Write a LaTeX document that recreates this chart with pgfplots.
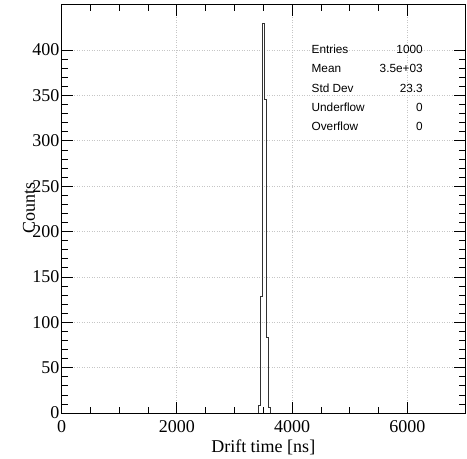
\documentclass[border=0pt]{standalone}
\usepackage{fontspec}
\setmainfont{Liberation Serif}
\newfontfamily\statfont{Liberation Sans}
\usepackage{pgfplots}
\pgfplotsset{compat=1.18}
\begin{document}
\begin{tikzpicture}
\useasboundingbox (0,0) rectangle (467bp,459bp);
\begin{axis}[
  at={(61.5bp,46bp)}, anchor=south west,
  scale only axis, width=403.5bp, height=408.4bp,
  xmin=0, xmax=7000, ymin=0, ymax=450,
  xtick={0,2000,4000,6000}, ytick={0,50,...,400},
  minor x tick num=3, minor y tick num=4,
  major tick length=11bp, minor tick length=6bp,
  tick align=inside, tick pos=both,
  tick style={black, line width=0.6bp},
  axis line style={line width=1bp},
  grid=major, major grid style={gray!45, line width=0.6bp, dash pattern=on 1bp off 1.5bp},
  tick label style={font=\fontsize{18bp}{20bp}\selectfont},
  /pgf/number format/assume math mode=true,
  /pgf/number format/1000 sep={},
  scaled x ticks=false,
  xlabel={Drift time [ns]}, ylabel={Counts},
  label style={font=\fontsize{18bp}{20bp}\selectfont},
  xlabel style={at={(axis description cs:0.5,-0.0955)}, anchor=base},
  ylabel style={at={(axis description cs:-0.0805,0.502)}, anchor=center},
  xticklabel style={yshift=-4bp},
  yticklabel style={xshift=1.5bp},
]
\addplot[const plot, black!80, line width=0.8bp] coordinates {
  (0,0) (3415,8) (3450,128) (3485,429) (3520,346) (3555,83) (3590,6) (3625,0) (7000,0)};
\begin{scope}[every node/.style={font=\statfont\fontsize{11.8bp}{13bp}\selectfont, inner sep=0pt}]
\node[anchor=base west] at (axis cs:4336,396.4) {Entries};
\node[anchor=base east] at (axis cs:6270,396.4) {1000};
\node[anchor=base west] at (axis cs:4336,375.0) {Mean};
\node[anchor=base east] at (axis cs:6270,375.0) {3.5e+03};
\node[anchor=base west] at (axis cs:4336,353.6) {Std Dev};
\node[anchor=base east] at (axis cs:6270,353.6) {23.3};
\node[anchor=base west] at (axis cs:4336,332.6) {Underflow};
\node[anchor=base east] at (axis cs:6270,332.6) {0};
\node[anchor=base west] at (axis cs:4336,311.7) {Overflow};
\node[anchor=base east] at (axis cs:6270,311.7) {0};
\end{scope}
\end{axis}
\end{tikzpicture}
\end{document}
